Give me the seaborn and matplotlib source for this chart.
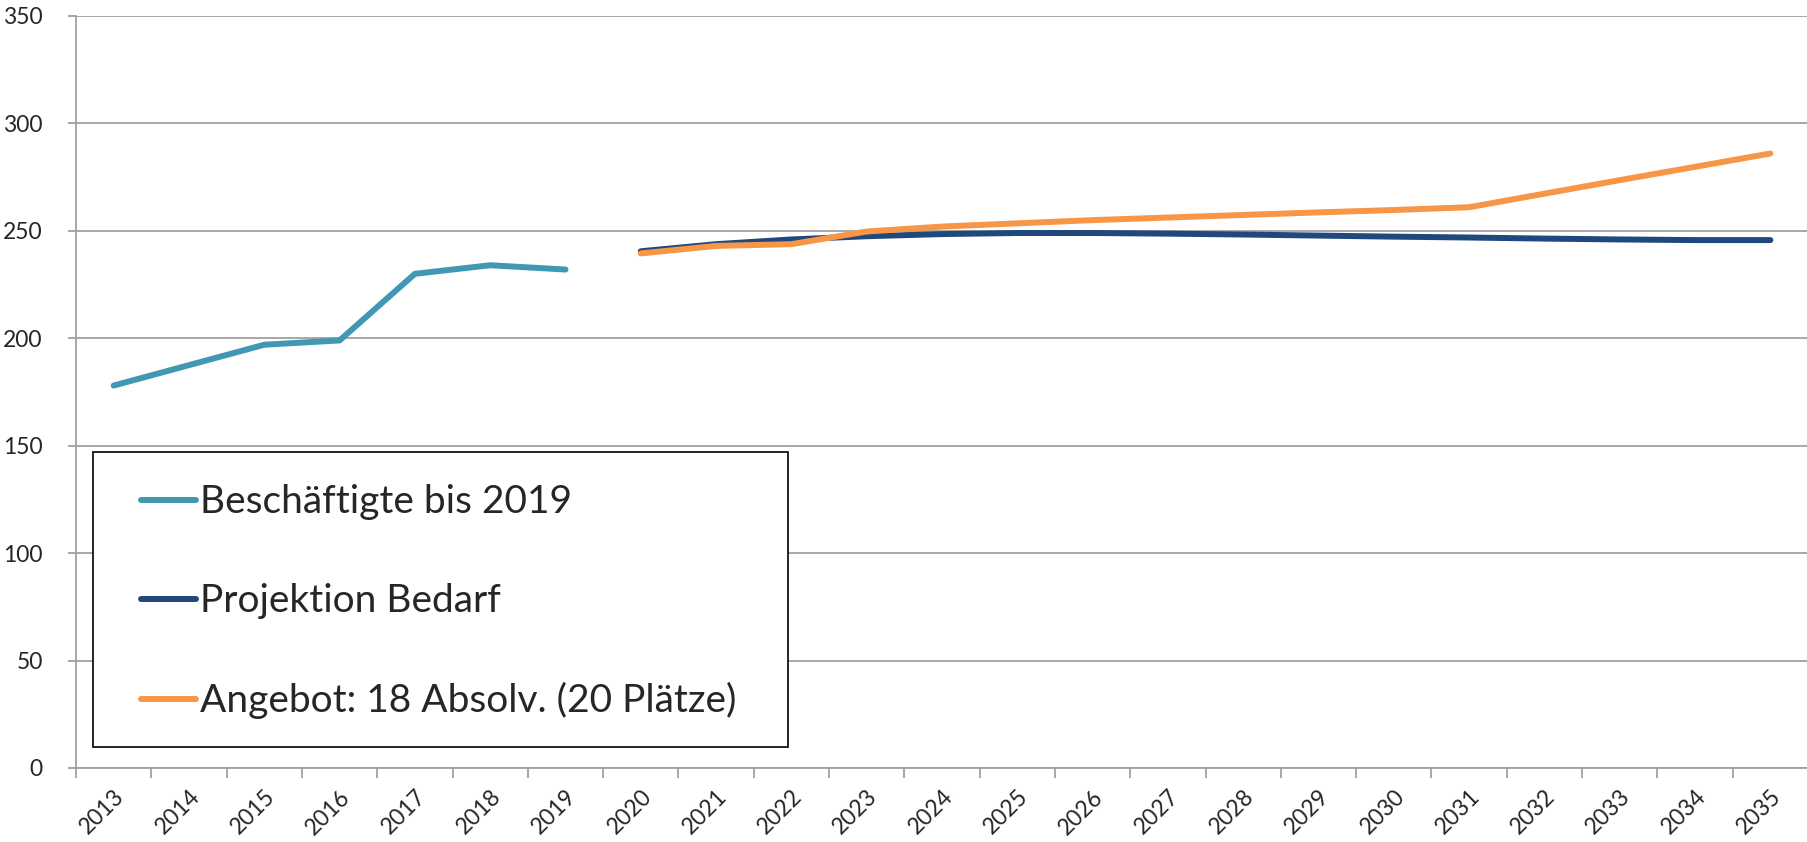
import numpy as np
import pandas as pd
import seaborn as sns
import matplotlib
matplotlib.use("Agg")
import matplotlib.pyplot as plt
from matplotlib.lines import Line2D
from matplotlib.patches import Rectangle

years = list(range(2013, 2036))
beschaeftigte_years = [2013, 2014, 2015, 2016, 2017, 2018, 2019]
beschaeftigte = [178, 187.5, 197, 199, 230, 234, 232]
proj_years = list(range(2020, 2036))
projektion_bedarf = [240.5, 243.8, 246, 247.5, 248.5, 249, 249, 248.7, 248.3, 247.8,
                     247.3, 246.9, 246.4, 246, 245.7, 245.7]
angebot = [239.5, 243, 243.8, 249.7, 252, 253.5, 255, 256.2, 257.4, 258.6,
           259.7, 261, 267.3, 273.6, 279.8, 286]
labels = ["Beschäftigte bis 2019", "Projektion Bedarf", "Angebot: 18 Absolv. (20 Plätze)"]
colors = ["#4198B3", "#1F497D", "#F79646"]
y_ticks = [0, 50, 100, 150, 200, 250, 300, 350]

sns.set_theme(style="white")
plt.rcParams['font.family'] = ['Lato', 'DejaVu Sans']

idx = {y: i for i, y in enumerate(years)}
df1 = pd.DataFrame({"x": [idx[y] for y in beschaeftigte_years], "v": beschaeftigte})
df2 = pd.DataFrame({"x": [idx[y] for y in proj_years], "v": projektion_bedarf})
df3 = pd.DataFrame({"x": [idx[y] for y in proj_years], "v": angebot})

W, H = 1808, 842
fig = plt.figure(figsize=(W/100, H/100), dpi=100)
ax = fig.add_axes([76/W, 1-768/H, 1-76/W, (768-16)/H])

for ax_y in y_ticks:
    ax.axhline(ax_y, color="#A0A0A0", lw=1.3, zorder=0)

lw = 4.3
for d, c in zip([df1, df2, df3], colors):
    sns.lineplot(data=d, x="x", y="v", ax=ax, color=c, lw=lw,
                 solid_capstyle="round", solid_joinstyle="round", zorder=3)

ax.set_xlim(-0.5, (W-76)/75.66 - 0.5)
ax.set_ylim(0, 350)
ax.set_yticks(y_ticks)
ax.set_yticklabels([str(v) for v in y_ticks], fontsize=16.5)
ax.set_xticks(range(len(years)))
ax.set_xticklabels([str(y) for y in years], rotation=45, ha="right",
                   rotation_mode="anchor", fontsize=16.5)
ax.set_xticks(np.arange(-0.5, len(years) - 0.4, 1), minor=True)
ax.tick_params(axis="x", which="major", length=0, pad=13)
ax.tick_params(axis="x", which="minor", length=7, color="#A0A0A0", width=1.3, bottom=True)
ax.tick_params(axis="y", which="major", length=6, color="#A0A0A0", width=1.3, left=True, pad=18)
ax.set_xlabel("")
ax.set_ylabel("")
for s in ["top", "right"]:
    ax.spines[s].set_visible(False)
for s in ["left", "bottom"]:
    ax.spines[s].set_color("#A0A0A0")
    ax.spines[s].set_linewidth(1.3)

# legend frame
fig.patches.append(Rectangle((93/W, 1-747/H), (788-93)/W, (747-452)/H,
                             transform=fig.transFigure, facecolor="white",
                             edgecolor="black", lw=1.2, zorder=9))

fs = 28
handles = [Line2D([0], [0], color=c, lw=lw) for c in colors]
bp = 0.83
leg = fig.legend(handles, labels, loc="upper left",
                 bbox_to_anchor=((141 - bp*fs*100/72)/W, 1-452/H),
                 fontsize=fs, frameon=False,
                 handlelength=1.42, handletextpad=0.1,
                 labelspacing=1.62, borderpad=bp, borderaxespad=0)
leg.set_zorder(10)

fig.savefig("out.png", dpi=100)
